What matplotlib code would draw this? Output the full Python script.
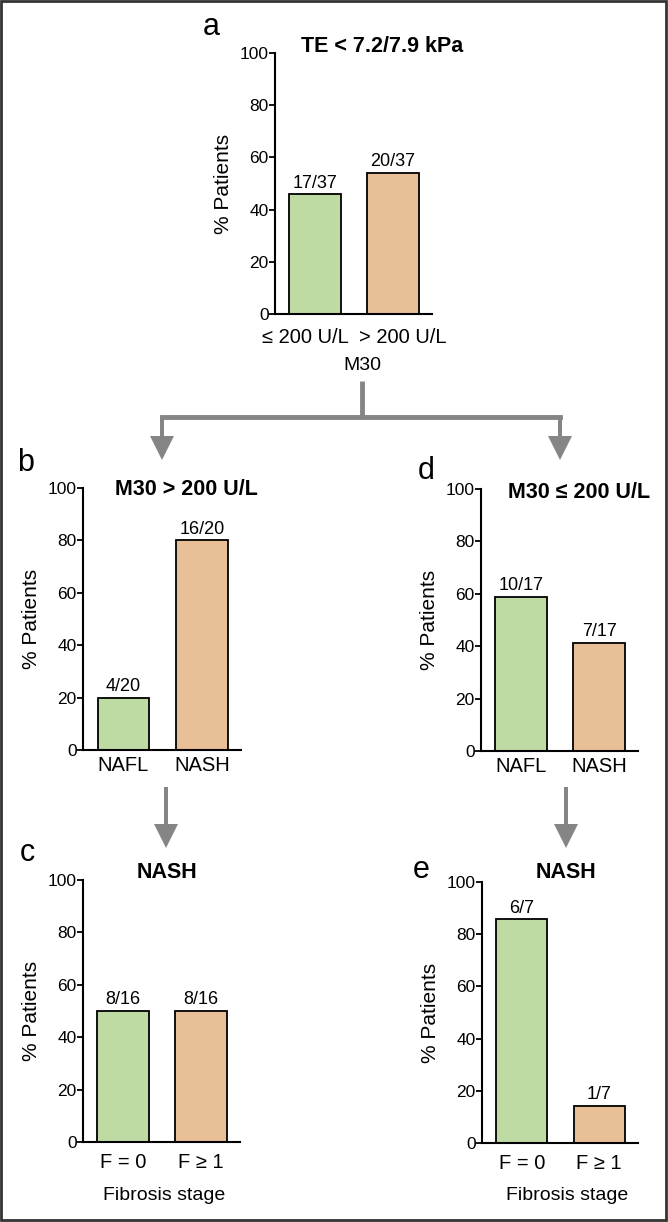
import matplotlib
matplotlib.use("Agg")
import matplotlib.pyplot as plt
from matplotlib.patches import Rectangle, FancyArrow

plt.rcParams['font.family'] = ['Liberation Sans', 'DejaVu Sans']

# data
cats_m30 = ['≤ 200 U/L', '> 200 U/L']
pct_a = [45.9, 54.1]
lab_a = ['17/37', '20/37']

cats_hist = ['NAFL', 'NASH']
pct_b = [20.0, 80.0]
lab_b = ['4/20', '16/20']
pct_d = [58.8, 41.2]
lab_d = ['10/17', '7/17']

cats_fib = ['F = 0', 'F ≥ 1']
pct_c = [50.0, 50.0]
lab_c = ['8/16', '8/16']
pct_e = [85.7, 14.3]
lab_e = ['6/7', '1/7']

green = '#bfdba4'
orange = '#e9bf98'
arrow_col = '#858585'

W, H = 668, 1222
fig = plt.figure(figsize=(W / 100, H / 100), dpi=100)


def fx(x):
    return x / W


def fy(y):
    return 1 - y / H


def panel(box, cats, vals, labels, title, title_xy, letter, letter_xy, tpad,
          xlabel=None, xlabel_xy=None, tick_shift=0.0):
    x0, x1, y0, y1 = box
    w, h = x1 - x0, y1 - y0
    ax = fig.add_axes([fx(x0), fy(y1), w / W, h / H])
    xs = list(range(len(cats)))
    ax.bar(xs, vals, width=0.66, color=[green, orange], edgecolor='black', linewidth=1.3)
    for x, v, t in zip(xs, vals, labels):
        ax.text(x, v + 1.0, t, ha='center', va='bottom', fontsize=13)
    ax.set_xlim(-0.515, 1.5)
    ax.set_ylim(0, 100)
    ax.set_yticks([0, 20, 40, 60, 80, 100])
    # long labels sit a bit wider apart than the bars
    ax.set_xticks([xs[0] - tick_shift, xs[1] + tick_shift])
    ax.set_xticklabels(cats, fontsize=14.5)
    ax.tick_params(axis='x', length=0, pad=tpad)
    ax.tick_params(axis='y', length=4, width=1.3, labelsize=12.5, pad=0.5)
    for s in ['top', 'right']:
        ax.spines[s].set_visible(False)
    for s in ['left', 'bottom']:
        ax.spines[s].set_linewidth(1.5)
    ax.set_ylabel('% Patients', fontsize=15)
    ax.yaxis.set_label_coords(-42 / w, 0.5)
    fig.text(fx(title_xy[0]), fy(title_xy[1]), title, fontsize=15.5, fontweight='bold',
             ha='center', va='center')
    if xlabel:
        ax.set_xlabel(xlabel, fontsize=14)
        ax.xaxis.set_label_coords((xlabel_xy[0] - x0) / w, -(xlabel_xy[1] - y1) / h)
    fig.text(fx(letter_xy[0]), fy(letter_xy[1]), letter, fontsize=22,
             ha='center', va='center')
    return ax


panel((275, 432, 53, 314), cats_m30, pct_a, lab_a, 'TE < 7.2/7.9 kPa', (382, 46),
      'a', (211, 27), 10, 'M30', (362, 357), tick_shift=0.12)
panel((83, 241, 488, 750), cats_hist, pct_b, lab_b, 'M30 > 200 U/L', (186, 489),
      'b', (26, 463), 4)
panel((481, 638, 489, 751), cats_hist, pct_d, lab_d, 'M30 ≤ 200 U/L', (579, 493),
      'd', (426, 471), 4)
panel((83, 240, 880, 1142), cats_fib, pct_c, lab_c, 'NASH', (167, 873),
      'c', (27, 853), 8, 'Fibrosis stage', (164, 1187))
panel((482, 638, 882, 1143), cats_fib, pct_e, lab_e, 'NASH', (566, 873),
      'e', (421, 870), 8, 'Fibrosis stage', (567, 1187))

# overlay for arrows and frame
ov = fig.add_axes([0, 0, 1, 1], zorder=-1)
ov.set_xlim(0, W)
ov.set_ylim(H, 0)
ov.axis('off')

ov.plot([362, 362], [381, 417], color=arrow_col, lw=3.5, solid_capstyle='butt')
ov.plot([162, 560], [417, 417], color=arrow_col, lw=3.5, solid_capstyle='projecting')
for x, y0, y1 in [(162, 417, 460), (560, 417, 460), (166, 787, 848), (566, 787, 848)]:
    ov.add_patch(FancyArrow(x, y0, 0, y1 - y0, width=4, head_width=24, head_length=24,
                            length_includes_head=True, color=arrow_col, lw=0))

ov.add_patch(Rectangle((1, 1), W - 3, H - 3, fill=False, edgecolor='#333333', lw=2))

fig.savefig('out.png', dpi=100)
